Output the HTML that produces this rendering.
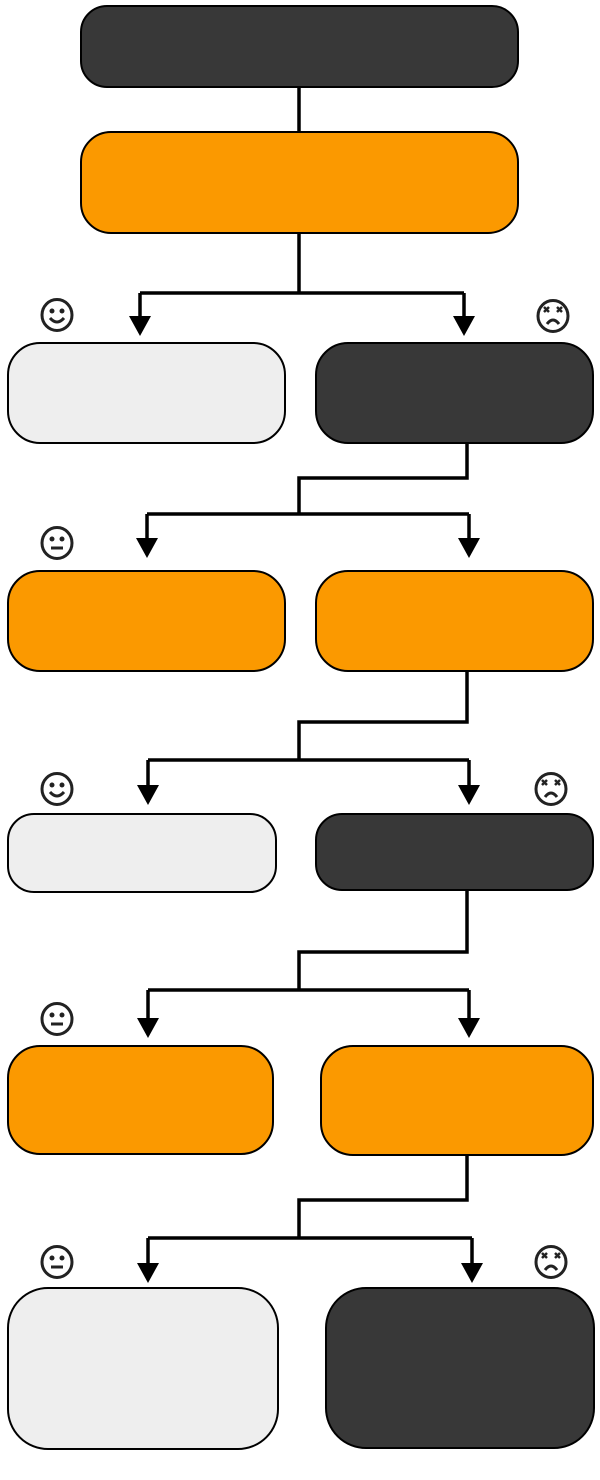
<!DOCTYPE html>
<html><head><style>html,body{margin:0;padding:0;background:#fff;width:600px;height:1480px;overflow:hidden}</style></head>
<body>
<svg width="600" height="1480" viewBox="0 0 600 1480" xmlns="http://www.w3.org/2000/svg">
<defs>
<g id="smile"><ellipse cx="0" cy="0" rx="15" ry="15.5" fill="#fff" stroke="#222" stroke-width="3"/><circle cx="-5" cy="-4" r="2.5" fill="#222"/><circle cx="5" cy="-4" r="2.5" fill="#222"/><path d="M-7,3 Q0,11 7,3" fill="none" stroke="#222" stroke-width="3"/></g>
<g id="neutral"><ellipse cx="0" cy="0" rx="15" ry="15.5" fill="#fff" stroke="#222" stroke-width="3"/><circle cx="-5" cy="-4" r="2.5" fill="#222"/><circle cx="5" cy="-4" r="2.5" fill="#222"/><path d="M-6,5 H6" stroke="#222" stroke-width="3"/></g>
<g id="dead"><ellipse cx="0" cy="0" rx="15" ry="15.5" fill="#fff" stroke="#222" stroke-width="3"/><path d="M-9,-9 l5,5 M-4,-9 l-5,5 M4,-9 l5,5 M9,-9 l-5,5" stroke="#222" stroke-width="2.5"/><path d="M-6,8 Q0,0 6,8" fill="none" stroke="#222" stroke-width="3"/></g>
</defs>
<g stroke="#000" stroke-width="3.5" fill="none">
<path d="M299,87 V132"/>
<path d="M299,233 V293 M140,293 H464 M140,293 V318 M464,293 V318"/>
<path d="M467,443 V478 H299 V514 M147,514 H469 M147,514 V540 M469,514 V540"/>
<path d="M467,671 V722 H299 V760 M148,760 H469 M148,760 V787 M469,760 V787"/>
<path d="M467,890 V952 H299 V990 M148,990 H469 M148,990 V1020 M469,990 V1020"/>
<path d="M467,1155 V1200 H299 V1238 M148,1238 H472 M148,1238 V1265 M472,1238 V1265"/>
</g>
<g fill="#000">
<path d="M129,316 H151 L140,336 Z"/><path d="M453,316 H475 L464,336 Z"/>
<path d="M136,538 H158 L147,558 Z"/><path d="M458,538 H480 L469,558 Z"/>
<path d="M137,785 H159 L148,805 Z"/><path d="M458,785 H480 L469,805 Z"/>
<path d="M137,1018 H159 L148,1038 Z"/><path d="M458,1018 H480 L469,1038 Z"/>
<path d="M137,1263 H159 L148,1283 Z"/><path d="M461,1263 H483 L472,1283 Z"/>
</g>
<g stroke="#000" stroke-width="2">
<rect x="81" y="6" width="437" height="81" rx="26" fill="#383838"/>
<rect x="81" y="132" width="437" height="101" rx="30" fill="#fb9900"/>
<rect x="8" y="343" width="277" height="100" rx="32" fill="#eeeeee"/>
<rect x="316" y="343" width="277" height="100" rx="32" fill="#383838"/>
<rect x="8" y="571" width="277" height="100" rx="32" fill="#fb9900"/>
<rect x="316" y="571" width="277" height="100" rx="32" fill="#fb9900"/>
<rect x="8" y="814" width="268" height="78" rx="26" fill="#eeeeee"/>
<rect x="316" y="814" width="277" height="76" rx="26" fill="#383838"/>
<rect x="8" y="1046" width="265" height="108" rx="32" fill="#fb9900"/>
<rect x="321" y="1046" width="272" height="109" rx="32" fill="#fb9900"/>
<rect x="8" y="1288" width="270" height="161" rx="40" fill="#eeeeee"/>
<rect x="326" y="1288" width="268" height="160" rx="40" fill="#383838"/>
</g>
<use href="#smile" x="57" y="315"/>
<use href="#dead" x="553" y="316"/>
<use href="#neutral" x="57" y="543"/>
<use href="#smile" x="57" y="789"/>
<use href="#dead" x="551" y="789"/>
<use href="#neutral" x="57" y="1019"/>
<use href="#neutral" x="57" y="1262"/>
<use href="#dead" x="551" y="1262"/>
</svg>
</body></html>
